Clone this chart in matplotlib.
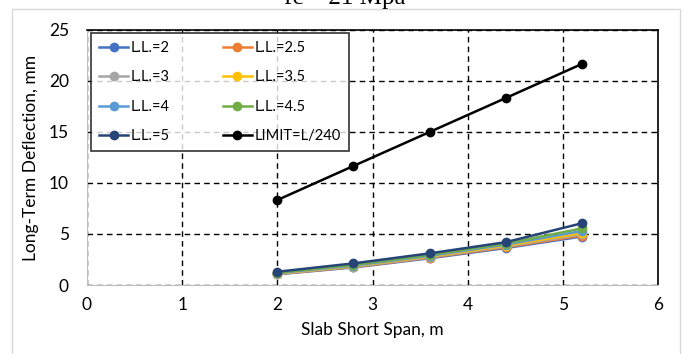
import matplotlib
matplotlib.use("Agg")
import matplotlib.pyplot as plt
from matplotlib.patches import Rectangle

span = [2, 2.8, 3.6, 4.4, 5.2]
ll2 = [1.05, 1.72, 2.62, 3.62, 4.75]
ll25 = [1.08, 1.76, 2.68, 3.70, 4.85]
ll3 = [1.10, 1.80, 2.73, 3.78, 4.97]
ll35 = [1.13, 1.85, 2.80, 3.86, 5.10]
ll4 = [1.17, 1.90, 2.87, 3.96, 5.30]
ll45 = [1.22, 1.98, 2.96, 4.06, 5.55]
ll5 = [1.30, 2.12, 3.10, 4.20, 6.05]
limit = [8.33, 11.67, 15.0, 18.33, 21.67]

labels = ["L.L.=2", "L.L.=2.5", "L.L.=3", "L.L.=3.5", "L.L.=4", "L.L.=4.5", "L.L.=5", "LIMIT=L/240"]
series = [ll2, ll25, ll3, ll35, ll4, ll45, ll5, limit]
colors = ["#4472C4", "#ED7D31", "#A5A5A5", "#FFC000", "#5B9BD5", "#70AD47", "#264478", "#000000"]

plt.rcParams['font.family'] = ['Lato', 'DejaVu Sans']

fig = plt.figure(figsize=(6.83, 3.54), dpi=100)
ax = fig.add_axes([87/683, 1-285/354, 571/683, 255/354])

for y, lab, c in zip(series, labels, colors):
    ax.plot(span, y, color=c, lw=1.8, marker='o', ms=6, label=lab)

ax.set_xlim(0, 6)
ax.set_ylim(0, 25)
ax.set_xticks(range(0, 7))
ax.set_yticks(range(0, 26, 5))
ax.grid(True, color='black', linestyle=(0, (4, 3)), lw=1)
ax.set_axisbelow(True)
ax.tick_params(length=0, labelsize=12.5)
ax.tick_params(axis='y', pad=13)
ax.tick_params(axis='x', pad=9)
for s in ['left', 'bottom']:
    ax.spines[s].set_color('#bfbfbf')
for s in ['top', 'right']:
    ax.spines[s].set_color('black')
    ax.spines[s].set_linewidth(1.2)
ax.set_xlabel("Slab Short Span, m", fontsize=12.5, labelpad=6)
ax.set_ylabel("Long-Term Deflection, mm", fontsize=12.5, labelpad=7)

order = [0, 2, 4, 6, 1, 3, 5, 7]
h, l = ax.get_legend_handles_labels()
leg = ax.legend([h[i] for i in order], [l[i] for i in order], ncol=2,
                loc='upper left', bbox_to_anchor=(0.007, 0.988), borderaxespad=0,
                fontsize=10.5, frameon=True, fancybox=False, edgecolor='black',
                handlelength=2.0, handletextpad=0.2, columnspacing=3.6,
                labelspacing=1.05, borderpad=0.55)
leg.get_frame().set_linewidth(1.2)

fig.text(345/683, 1-4/354, "fc' =21 Mpa", family='Liberation Serif', fontsize=18,
         ha='center', va='baseline')
fig.patches.append(Rectangle((12/683, -0.1), (680-12)/683, 1.1-9/354,
                             transform=fig.transFigure, fill=False,
                             edgecolor='#d9d9d9', lw=1))

fig.savefig("out.png", dpi=100)
